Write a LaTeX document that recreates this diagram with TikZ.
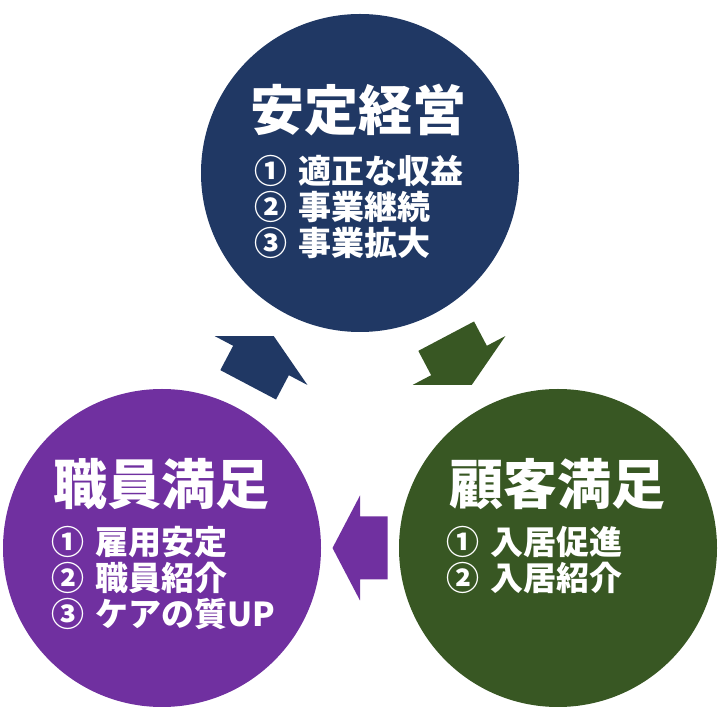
\documentclass[tikz,border=0pt]{standalone}
\usepackage{fontspec}
\newfontfamily\jpfont{Noto Sans CJK JP}
\usetikzlibrary{calc}

\definecolor{navyblue}{HTML}{203864}
\definecolor{leafgreen}{HTML}{385723}
\definecolor{staffpurple}{HTML}{7030A0}

\begin{document}
\begin{tikzpicture}[
    x=1pt, y=1pt,
    bubble/.style={circle, minimum size=318pt, inner sep=0pt},
    heading/.style={text=white, font=\jpfont\bfseries\fontsize{54}{60}\selectfont},
    points/.style={text=white, align=left, anchor=west, inner sep=0pt, font=\jpfont\bfseries\fontsize{33}{36}\selectfont},
    cyclearrow/.pic={\fill[pic actions] (-27.5,-31.5) -- (0,-31.5) -- (0,-52.5) -- (27.5,0) -- (0,52.5) -- (0,31.5) -- (-27.5,31.5) -- cycle;}
  ]
    \useasboundingbox (0,0) rectangle (720,720);

    % Circles
    \node[bubble, fill=navyblue] (top) at (360, 547) {};
    \node[bubble, fill=staffpurple] (left) at (162, 172) {};
    \node[bubble, fill=leafgreen] (right) at (558, 172) {};

    % Headings
    \node[heading] (topTitle) at (358, 610) {安定経営};
    \node[heading] (leftTitle) at (161, 236) {職員満足};
    \node[heading] (rightTitle) at (557, 236) {顧客満足};

    % Items
    \node[points] (topList) at (254, 513) {①\,\,適正な収益\\②\,\,事業継続\\③\,\,事業拡大};
    \node[points] (leftList) at (51, 142) {①\,\,雇用安定\\②\,\,職員紹介\\③\,\,ケアの質UP};
    \node[points] (rightList) at (446, 160) {①\,\,入居促進\\②\,\,入居紹介};

    % Arrows
    \pic[fill=leafgreen, rotate=-62.2] (toRight) at ($(top)!0.5!(right)$) {cyclearrow};
    \pic[fill=staffpurple, rotate=180] (toLeft) at ($(right)!0.5!(left)$) {cyclearrow};
    \pic[fill=navyblue, rotate=62.2] (toTop) at ($(left)!0.5!(top)$) {cyclearrow};

  \end{tikzpicture}
\end{document}
